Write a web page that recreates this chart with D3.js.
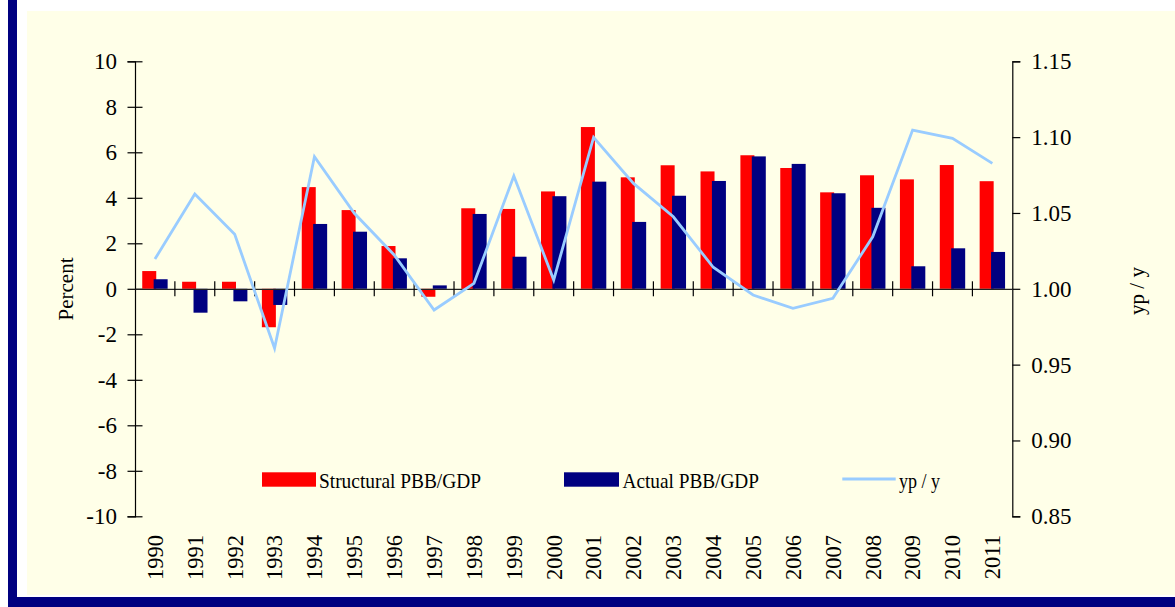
<!DOCTYPE html>
<html>
<head>
<meta charset="utf-8">
<script src="https://cdn.jsdelivr.net/npm/d3@7"></script>
<style>
html,body{margin:0;padding:0;background:#fff;}
svg{display:block;font-family:"Liberation Serif","Times New Roman",serif;}
</style>
</head>
<body>
<svg id="chart" width="1175" height="607"></svg>
<script>
const years = ["1990","1991","1992","1993","1994","1995","1996","1997","1998","1999","2000","2001","2002","2003","2004","2005","2006","2007","2008","2009","2010","2011"];
const structural = [0.78,0.31,0.31,-1.69,4.47,3.46,1.88,-0.35,3.54,3.51,4.28,7.11,4.90,5.43,5.16,5.87,5.31,4.24,4.99,4.81,5.44,4.73];
const actual = [0.42,-1.05,-0.55,-0.71,2.85,2.51,1.34,0.15,3.29,1.41,4.07,4.71,2.94,4.09,4.74,5.82,5.49,4.20,3.56,0.99,1.78,1.62];
const ypy = [1.0196,1.0625,1.0359,0.9608,1.0871,1.0498,1.0223,0.9860,1.0036,1.0744,1.0058,1.0999,1.0695,1.0475,1.0142,0.9959,0.9871,0.9937,1.0343,1.1047,1.0992,1.0827];
const leftTicks = [-10,-8,-6,-4,-2,0,2,4,6,8,10];
const rightTicks = [0.85,0.90,0.95,1.00,1.05,1.10,1.15];
const seriesNames = ["Structural PBB/GDP","Actual PBB/GDP","yp / y"];
const leftTitle = "Percent";
const rightTitle = "yp / y";

const svg = d3.select("#chart");
const C = {red:"#FF0000", navy:"#000080", line:"#99CCFF", bg:"#FFFFE8", axis:"#000"};
const FF = "Liberation Serif";

// frame
svg.append("rect").attr("x",27).attr("y",11).attr("width",1148).attr("height",584).attr("fill",C.bg);
svg.append("rect").attr("x",8).attr("y",0).attr("width",9).attr("height",607).attr("fill",C.navy);
svg.append("rect").attr("x",8).attr("y",597).attr("width",1167).attr("height",10).attr("fill",C.navy);

const L = 135, R = 1012.3, T = 61.3, B = 516.3;
const x = d3.scaleBand().domain(years).range([L,R]).padding(0);
const y = d3.scaleLinear().domain([-10,10]).range([B,T]);
const y2 = d3.scaleLinear().domain([0.85,1.15]).range([B,T]);
const bw = x.bandwidth();
const barW = 14, off = 12.7;

// bars
svg.append("g").selectAll("rect").data(structural).join("rect")
  .attr("x",(d,i)=>x(years[i])+bw/2-off)
  .attr("width",barW)
  .attr("y",d=>y(Math.max(0,d)))
  .attr("height",d=>Math.abs(y(d)-y(0)))
  .attr("fill",C.red);
svg.append("g").selectAll("rect").data(actual).join("rect")
  .attr("x",(d,i)=>x(years[i])+bw/2+off-barW)
  .attr("width",barW)
  .attr("y",d=>y(Math.max(0,d)))
  .attr("height",d=>Math.abs(y(d)-y(0)))
  .attr("fill",C.navy);

// left axis
const gl = svg.append("g").attr("transform",`translate(${L},0)`)
  .call(d3.axisLeft(y).tickValues(leftTicks).tickFormat(d=>String(d)).tickSize(7.5).tickPadding(10.5));
gl.selectAll(".tick line").attr("x1",7.5).attr("x2",-7.5);
gl.selectAll("text").attr("font-size",23).attr("fill","#000").attr("font-family",FF);
gl.selectAll("path,line").attr("stroke","#000").attr("stroke-width",1.2);

// right axis
const gr = svg.append("g").attr("transform",`translate(${R},0)`)
  .call(d3.axisRight(y2).tickValues(rightTicks).tickFormat(d3.format(".2f")).tickSize(8).tickPadding(11));
gr.selectAll("text").attr("font-size",23).attr("fill","#000").attr("font-family",FF);
gr.selectAll("path,line").attr("stroke","#000").attr("stroke-width",1.2);

// zero category axis
const gx = svg.append("g").attr("transform",`translate(0,${y(0)})`)
  .call(d3.axisBottom(x).tickSize(0).tickFormat(""));
gx.select(".domain").attr("stroke","#222").attr("stroke-width",1.2);
gx.selectAll(".tick").remove();
svg.append("g").selectAll("line").data(years.slice(1)).join("line")
  .attr("x1",d=>x(d)).attr("x2",d=>x(d))
  .attr("y1",y(0)-7.5).attr("y2",y(0)+7.5)
  .attr("stroke","#000").attr("stroke-width",1.2);

// year labels
const gy = svg.append("g").attr("transform","translate(0,535)")
  .call(d3.axisBottom(x).tickSize(0).tickPadding(0));
gy.select(".domain").remove();
gy.selectAll("text")
  .attr("transform","rotate(-90)")
  .attr("text-anchor","end")
  .attr("x",0).attr("y",0).attr("dy","0.35em")
  .attr("font-size",22.5).attr("fill","#000").attr("font-family",FF);

// line
const line = d3.line().x((d,i)=>x(years[i])+bw/2).y(d=>y2(d));
svg.append("path").datum(ypy).attr("d",line)
  .attr("fill","none").attr("stroke",C.line).attr("stroke-width",2.8).attr("stroke-linejoin","miter");

// axis titles
svg.append("text").attr("transform","translate(66,289) rotate(-90)")
  .attr("text-anchor","middle").attr("dy","0.35em").attr("font-size",21).text(leftTitle);
svg.append("text").attr("transform","translate(1137,291) rotate(-90)")
  .attr("text-anchor","middle").attr("dy","0.35em").attr("font-size",21).text(rightTitle);

// legend
const lg = svg.append("g");
lg.append("rect").attr("x",262).attr("y",472.3).attr("width",54).attr("height",14.4).attr("fill",C.red);
lg.append("text").attr("x",319).attr("y",487.5).attr("font-size",21)
  .attr("textLength",162).attr("lengthAdjust","spacingAndGlyphs").text(seriesNames[0]);
lg.append("rect").attr("x",564).attr("y",472.3).attr("width",55).attr("height",14.4).attr("fill",C.navy);
lg.append("text").attr("x",622.5).attr("y",487.5).attr("font-size",21)
  .attr("textLength",136.5).attr("lengthAdjust","spacingAndGlyphs").text(seriesNames[1]);
lg.append("line").attr("x1",842.3).attr("x2",895.7).attr("y1",479).attr("y2",479).attr("stroke",C.line).attr("stroke-width",2.8);
lg.append("text").attr("x",899).attr("y",487.5).attr("font-size",21)
  .attr("textLength",41).attr("lengthAdjust","spacingAndGlyphs").text(seriesNames[2]);
</script>
</body>
</html>
